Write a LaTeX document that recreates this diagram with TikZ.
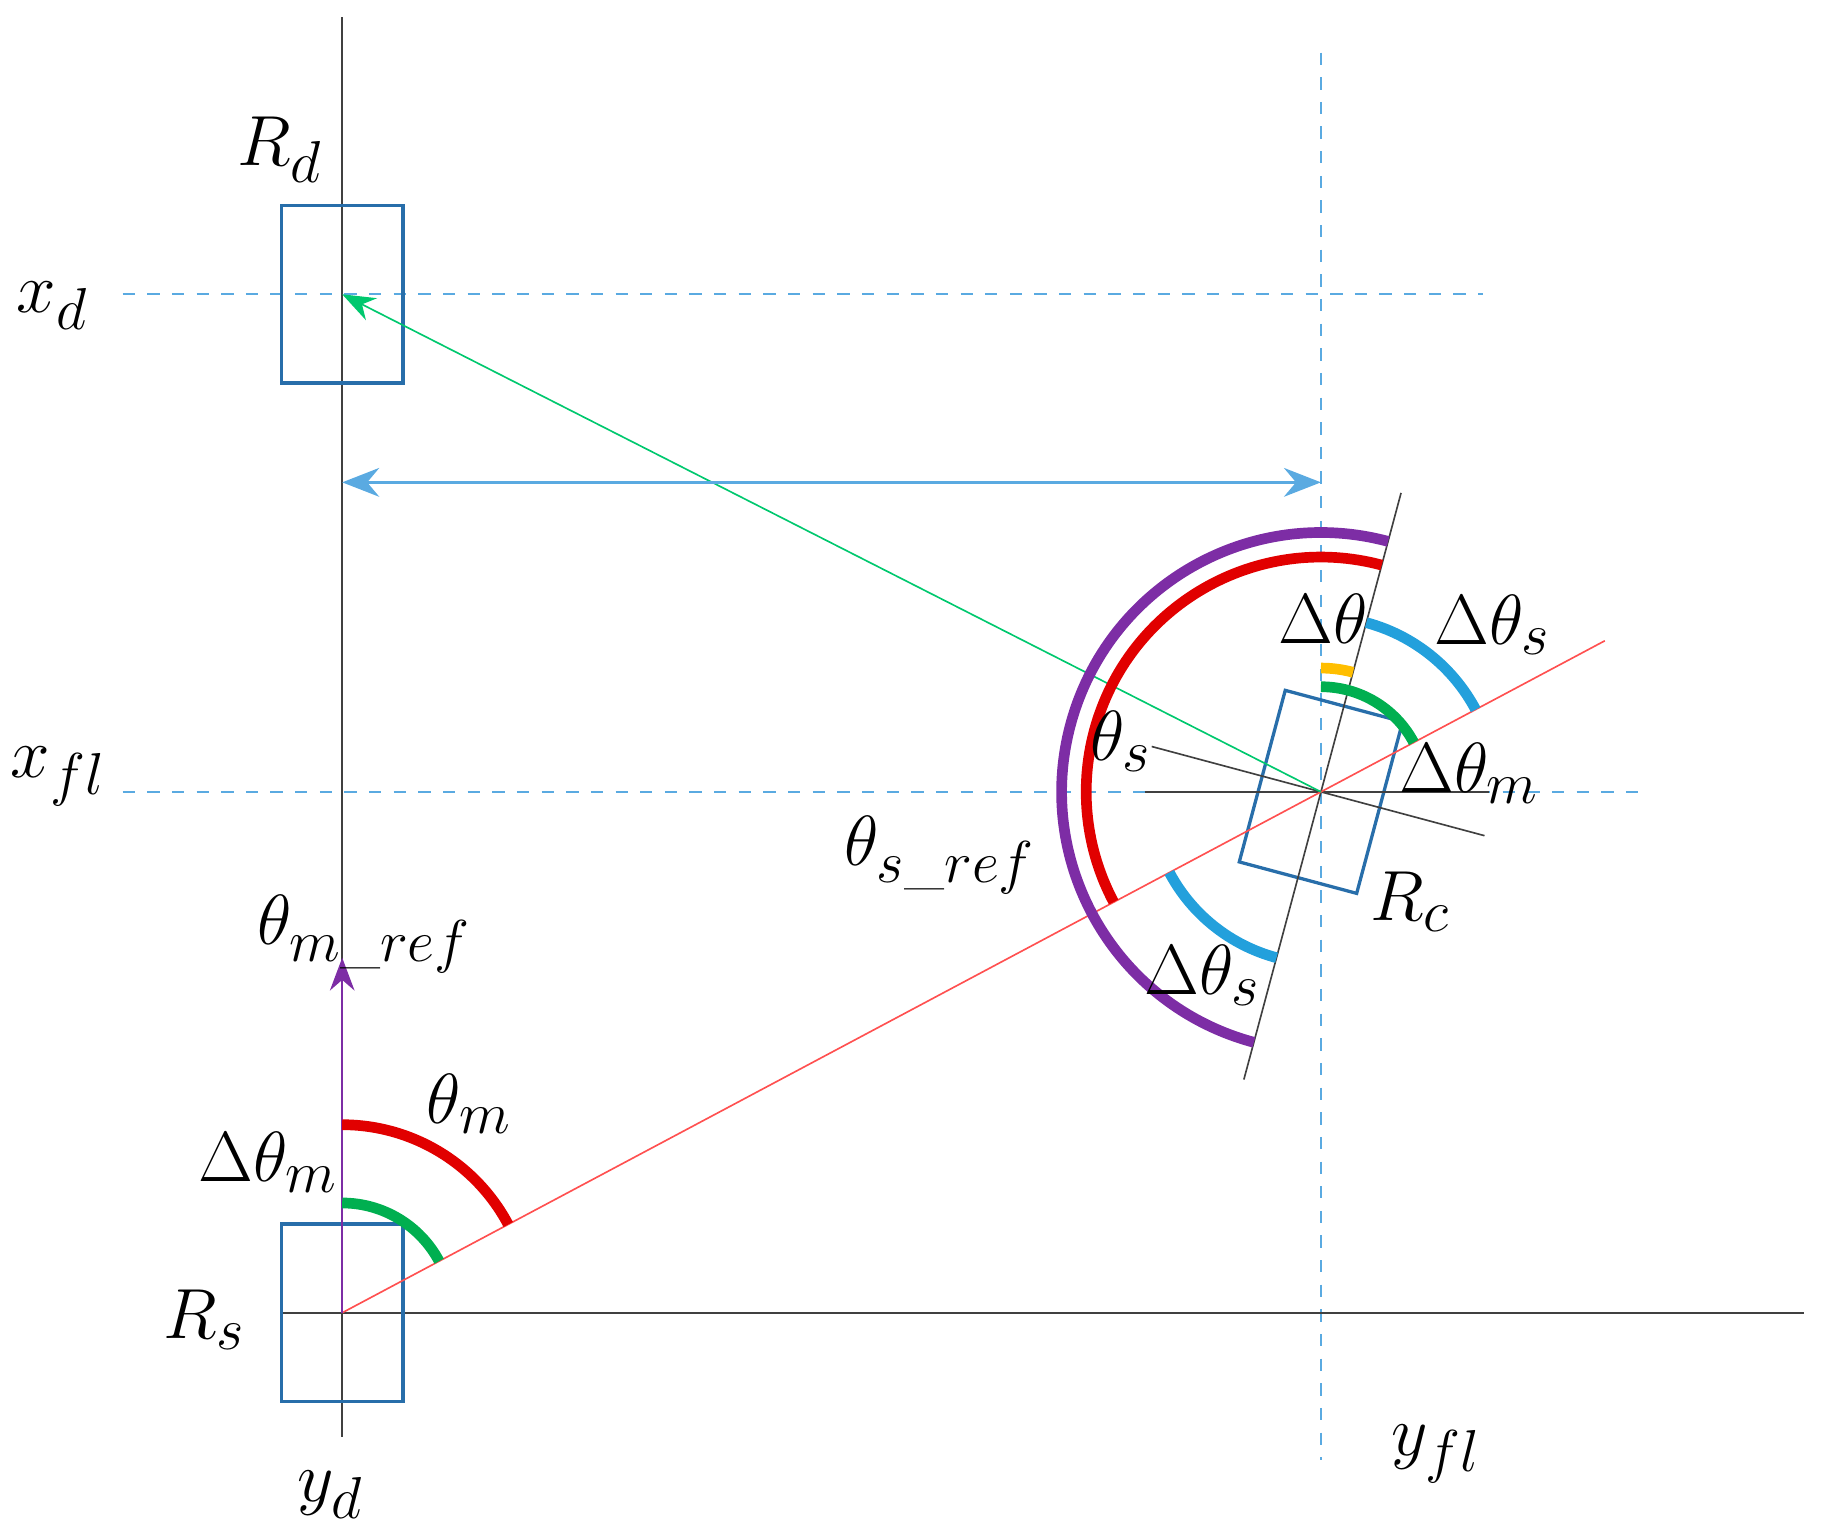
\documentclass[tikz,border=0pt]{standalone}
\usepackage{amsmath,amssymb}
\usepackage{xcolor}
\usetikzlibrary{arrows.meta, positioning, calc}
\definecolor{boxblue}{RGB}{40,110,170}
\definecolor{dashblue}{RGB}{90,170,225}
\definecolor{arcblue}{RGB}{35,160,220}
\definecolor{arcred}{RGB}{225,0,0}
\definecolor{arcpurple}{RGB}{125,45,165}
\definecolor{arcgreen}{RGB}{0,175,80}
\definecolor{arcyellow}{RGB}{255,190,0}
\definecolor{linered}{RGB}{255,80,80}
\definecolor{arrowgreen}{RGB}{0,200,110}
\tikzset{
    robot/.style={draw=boxblue, thick, minimum width=1.04cm, minimum height=1.52cm, inner sep=0},
    guide/.style={dashed, thin, dashblue},
    axisline/.style={thin, black!75},
    thickarc/.style={line width=2.6pt},
    every node/.style={font=\fontsize{19}{22}\selectfont}
}
\begin{document}
\begin{tikzpicture}[x=0.01cm, y=0.01cm]
    \useasboundingbox (0,0) rectangle (1560,1315);
    % key points
    \coordinate (S) at (293,191);
    \coordinate (C) at (1131,637);
    \coordinate (D) at (293,1063);
    % guide lines
    \draw[guide] (105,1063) -- (1270,1063);
    \draw[guide] (105,637) -- (1410,637);
    \draw[guide] (1131,1270) -- (1131,65);
    \draw[axisline] (293,1300) -- (293,85);
    \draw[axisline] (240,191) -- (1545,191);
    % robots
    \node[robot] (Rd) at (D) {};
    \node[robot] (Rs) at (S) {};
    \node[robot, rotate=-15] (Rc) at (C) {};
    % lines through Rc
    \draw[axisline] (C) -- ++(75:265);
    \draw[axisline] (C) -- ++(255:255);
    \draw[axisline] (C) -- ++(165:150);
    \draw[axisline] (C) -- ++(-15:145);
    \draw[axisline] (980,637) -- (1275,637);
    % red line Rs to Rc
    \draw[linered] (S) -- ($(S)!1.29!(C)$);
    % arrows
    \draw[-{Stealth[length=8pt,width=6pt]}, arrowgreen] (C) -- (D);
    \draw[{Stealth[length=9pt,width=7pt]}-{Stealth[length=9pt,width=7pt]}, dashblue, thick] (293,902) coordinate (a1) -- (1131,902) coordinate (a2);
    \draw[-{Stealth[length=8pt,width=6pt]}, arcpurple] (S) -- (293,495) coordinate (mref);
    % arcs at Rs
    \draw[thickarc, arcred] ($(S)+(90:161)$) arc[start angle=90, end angle=28, radius=161];
    \draw[thickarc, arcgreen] ($(S)+(90:94)$) arc[start angle=90, end angle=28, radius=94];
    % arcs at Rc
    \draw[thickarc, arcpurple] ($(C)+(75:222)$) arc[start angle=75, end angle=255, radius=222];
    \draw[thickarc, arcred] ($(C)+(75:201)$) arc[start angle=75, end angle=208, radius=201];
    \draw[thickarc, arcblue] ($(C)+(75:150)$) arc[start angle=75, end angle=28, radius=150];
    \draw[thickarc, arcblue] ($(C)+(208:147)$) arc[start angle=208, end angle=255, radius=147];
    \draw[thickarc, arcyellow] ($(C)+(90:106)$) arc[start angle=90, end angle=75, radius=106];
    \draw[thickarc, arcgreen] ($(C)+(90:90)$) arc[start angle=90, end angle=28, radius=90];
    % labels
    \node (lRd) at (240,1187) {$R_d$};
    \node (lxd) at (45,1053) {$x_d$};
    \node (lxfl) at (50,650) {$x_{fl}$};
    \node (lRs) at (175,185) {$R_s$};
    \node (lyd) at (283,35) {$y_d$};
    \node (lyfl) at (1230,70) {$y_{fl}$};
    \node (lmref) at (312,515) {$\theta_{m\_ref}$};
    \node (lthm) at (402,370) {$\theta_m$};
    \node (ldthm) at (230,320) {$\Delta\theta_m$};
    \node (lRc) at (1208,543) {$R_c$};
    \node (lsref) at (805,583) {$\theta_{s\_ref}$};
    \node (lths) at (960,680) {$\theta_s$};
    \node (ldth) at (1133,785) {$\Delta\theta$};
    \node (ldths1) at (1278,780) {$\Delta\theta_s$};
    \node (ldths2) at (1030,480) {$\Delta\theta_s$};
    \node (ldthm2) at (1258,653) {$\Delta\theta_m$};
\end{tikzpicture}
\end{document}
